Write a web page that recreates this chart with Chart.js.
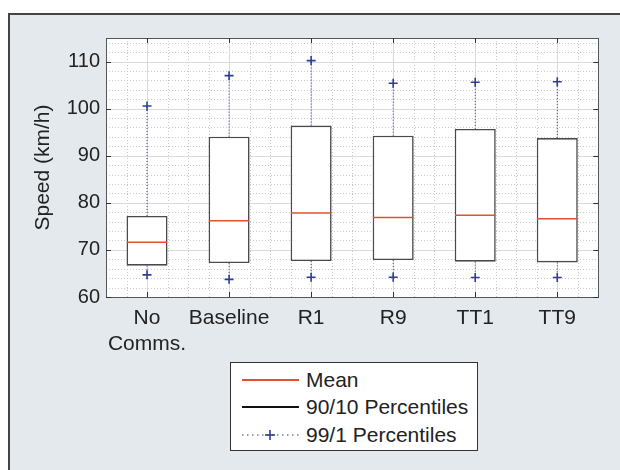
<!DOCTYPE html>
<html>
<head>
<meta charset="utf-8">
<script src="https://cdn.jsdelivr.net/npm/chart.js@4"></script>
<style>
  body { margin: 0; background: #fff; width: 620px; height: 470px; position: relative; overflow: hidden; font-family: 'Liberation Sans', Arial, sans-serif; }
  #frame { position: absolute; left: 8px; top: 13px; width: 700px; height: 500px; background: #e4e9ed; border-left: 2px solid #444; border-top: 2px solid #444; }
  #chart { position: absolute; left: 0; top: 0; }
  #legend { position: absolute; left: 230px; top: 362px; width: 246px; height: 87px; background: #fff; border: 1.5px solid #333; }
  .row { position: absolute; left: 0; height: 24px; width: 246px; }
  .row svg { position: absolute; left: 10px; top: 6px; }
  .row span { position: absolute; left: 75px; top: 0; font-size: 21px; line-height: 24px; color: #222; white-space: nowrap; }
</style>
</head>
<body>
<div id="frame"></div>
<canvas id="chart" width="620" height="360"></canvas>
<div id="legend">
  <div class="row" style="top:5px"><svg width="60" height="12"><line x1="1" y1="6" x2="58" y2="6" stroke="#e4502e" stroke-width="2"/></svg><span>Mean</span></div>
  <div class="row" style="top:32px"><svg width="60" height="12"><line x1="1" y1="6" x2="58" y2="6" stroke="#111" stroke-width="2"/></svg><span>90/10 Percentiles</span></div>
  <div class="row" style="top:60px"><svg width="60" height="12"><line x1="1" y1="6" x2="58" y2="6" stroke="#2d3e96" stroke-width="1.2" stroke-dasharray="1.5,3.5"/><line x1="24" y1="6" x2="34" y2="6" stroke="#2d3e96" stroke-width="1.6"/><line x1="29" y1="1" x2="29" y2="11" stroke="#2d3e96" stroke-width="1.6"/></svg><span>99/1 Percentiles</span></div>
</div>
<script>
// data
var categories = ['No Comms.', 'Baseline', 'R1', 'R9', 'TT1', 'TT9'];
var p1 = [64.7, 63.75, 64.2, 64.2, 64.15, 64.15];
var p10 = [66.65, 67.2, 67.65, 67.85, 67.5, 67.35];
var means = [71.6, 76.2, 77.85, 76.9, 77.35, 76.6];
var p90 = [77.2, 94.05, 96.4, 94.25, 95.7, 93.75];
var p99 = [100.55, 107.0, 110.2, 105.4, 105.6, 105.7];
var yTicks = [60, 70, 80, 90, 100, 110];

var RED = '#e4502e';
var BLUE = '#2d3e96';

Chart.defaults.font.family = "'Liberation Sans', Arial, sans-serif";
Chart.defaults.color = '#222';

// whisker segments: box edge to 99/1 percentile, broken by nulls
var whiskers = [];
categories.forEach(function (c, i) {
    whiskers.push({ x: c, y: p90[i] }, { x: c, y: p99[i] }, { x: c, y: null });
    whiskers.push({ x: c, y: p10[i] }, { x: c, y: p1[i] }, { x: c, y: null });
});

const matlabAxes = {
    id: 'matlabAxes',
    beforeDatasetsDraw: function (chart) {
        const ctx = chart.ctx, a = chart.chartArea, x = chart.scales.x, y = chart.scales.y;
        ctx.save();
        ctx.fillStyle = '#fff';
        ctx.fillRect(a.left, a.top, a.right - a.left, a.bottom - a.top);
        ctx.lineWidth = 1;
        // minor grid
        ctx.strokeStyle = '#c9c9c9';
        ctx.setLineDash([1, 2]);
        ctx.beginPath();
        for (var v = 62; v < 115; v += 2) {
            if (v % 10 === 0) continue;
            var py = Math.round(y.getPixelForValue(v)) + 0.5;
            ctx.moveTo(a.left, py); ctx.lineTo(a.right, py);
        }
        var step = x.getPixelForValue(1) - x.getPixelForValue(0);
        for (var i = 0; i < categories.length; i++) {
            var cx = x.getPixelForValue(i);
            [-1, 1, 2].forEach(function (k) {
                var px = Math.round(cx + k * step / 4) + 0.5;
                if (px < a.right - 1) { ctx.moveTo(px, a.top); ctx.lineTo(px, a.bottom); }
            });
        }
        ctx.stroke();
        // major grid
        ctx.setLineDash([]);
        ctx.strokeStyle = '#dadada';
        ctx.beginPath();
        yTicks.forEach(function (t) {
            var py = Math.round(y.getPixelForValue(t)) + 0.5;
            ctx.moveTo(a.left, py); ctx.lineTo(a.right, py);
        });
        for (var j = 0; j < categories.length; j++) {
            var px = Math.round(x.getPixelForValue(j)) + 0.5;
            ctx.moveTo(px, a.top); ctx.lineTo(px, a.bottom);
        }
        ctx.stroke();
        // axes box and inward ticks
        ctx.strokeStyle = '#555';
        ctx.strokeRect(Math.round(a.left) + 0.5, Math.round(a.top) + 0.5, Math.round(a.right - a.left), Math.round(a.bottom - a.top));
        ctx.strokeStyle = '#333';
        ctx.beginPath();
        yTicks.forEach(function (t) {
            var py = Math.round(y.getPixelForValue(t)) + 0.5;
            ctx.moveTo(a.left, py); ctx.lineTo(a.left + 5, py);
            ctx.moveTo(a.right, py); ctx.lineTo(a.right - 5, py);
        });
        for (var k = 0; k < categories.length; k++) {
            var tx = Math.round(x.getPixelForValue(k)) + 0.5;
            ctx.moveTo(tx, a.bottom); ctx.lineTo(tx, a.bottom - 5);
            ctx.moveTo(tx, a.top); ctx.lineTo(tx, a.top + 5);
        }
        ctx.stroke();
        ctx.restore();
    }
};

const chart = new Chart(document.getElementById('chart').getContext('2d'), {
    data: {
        labels: categories,
        datasets: [
            {
                type: 'bar',
                label: '90/10 Percentiles',
                data: categories.map(function (c, i) { return [p10[i], p90[i]]; }),
                backgroundColor: '#fff',
                borderColor: '#4a4a4a',
                borderWidth: 1.6,
                borderSkipped: false,
                barPercentage: 0.5,
                categoryPercentage: 1,
                order: 3
            },
            {
                type: 'line',
                label: 'whiskers',
                data: whiskers,
                borderColor: BLUE,
                borderWidth: 1,
                borderDash: [1, 2],
                pointRadius: 0,
                spanGaps: false,
                order: 2
            },
            {
                type: 'line',
                label: 'Mean',
                data: means,
                showLine: false,
                pointStyle: 'line',
                pointRadius: 20.2,
                pointBorderColor: RED,
                borderColor: RED,
                pointBorderWidth: 1.5,
                order: 1
            },
            {
                type: 'line',
                label: '99 Percentile',
                data: p99,
                showLine: false,
                pointStyle: 'cross',
                pointRadius: 4.5,
                pointBorderColor: BLUE,
                borderColor: BLUE,
                pointBorderWidth: 1.6,
                order: 0
            },
            {
                type: 'line',
                label: '1 Percentile',
                data: p1,
                showLine: false,
                pointStyle: 'cross',
                pointRadius: 4.5,
                pointBorderColor: BLUE,
                borderColor: BLUE,
                pointBorderWidth: 1.6,
                order: 0
            }
        ]
    },
    options: {
        responsive: false,
        animation: false,
        events: [],
        layout: { padding: { top: 38, right: 17, left: 0, bottom: 0 } },
        plugins: { legend: { display: false }, tooltip: { enabled: false } },
        scales: {
            x: {
                type: 'category',
                offset: true,
                grid: { display: false, drawTicks: false },
                border: { display: false },
                ticks: {
                    font: { size: 21 },
                    color: '#222',
                    padding: 9,
                    maxRotation: 0,
                    autoSkip: false,
                    callback: function (v) {
                        const l = this.getLabelForValue(v);
                        return l.indexOf(' ') > 0 ? l.split(' ') : l;
                    }
                },
                afterFit: function (s) { s.height = 63; }
            },
            y: {
                min: 60,
                max: 115,
                grid: { display: false, drawTicks: false },
                border: { display: false },
                ticks: {
                    stepSize: 10,
                    includeBounds: false,
                    font: { size: 20 },
                    color: '#222',
                    padding: 6,
                    callback: function (v) { return v % 10 === 0 ? v : ''; }
                },
                title: {
                    display: true,
                    text: 'Speed (km/h)',
                    font: { size: 21 },
                    color: '#222',
                    padding: { top: 31, bottom: 0 }
                },
                afterFit: function (s) { s.width = 106; }
            }
        }
    },
    plugins: [matlabAxes]
});
</script>
</body>
</html>
